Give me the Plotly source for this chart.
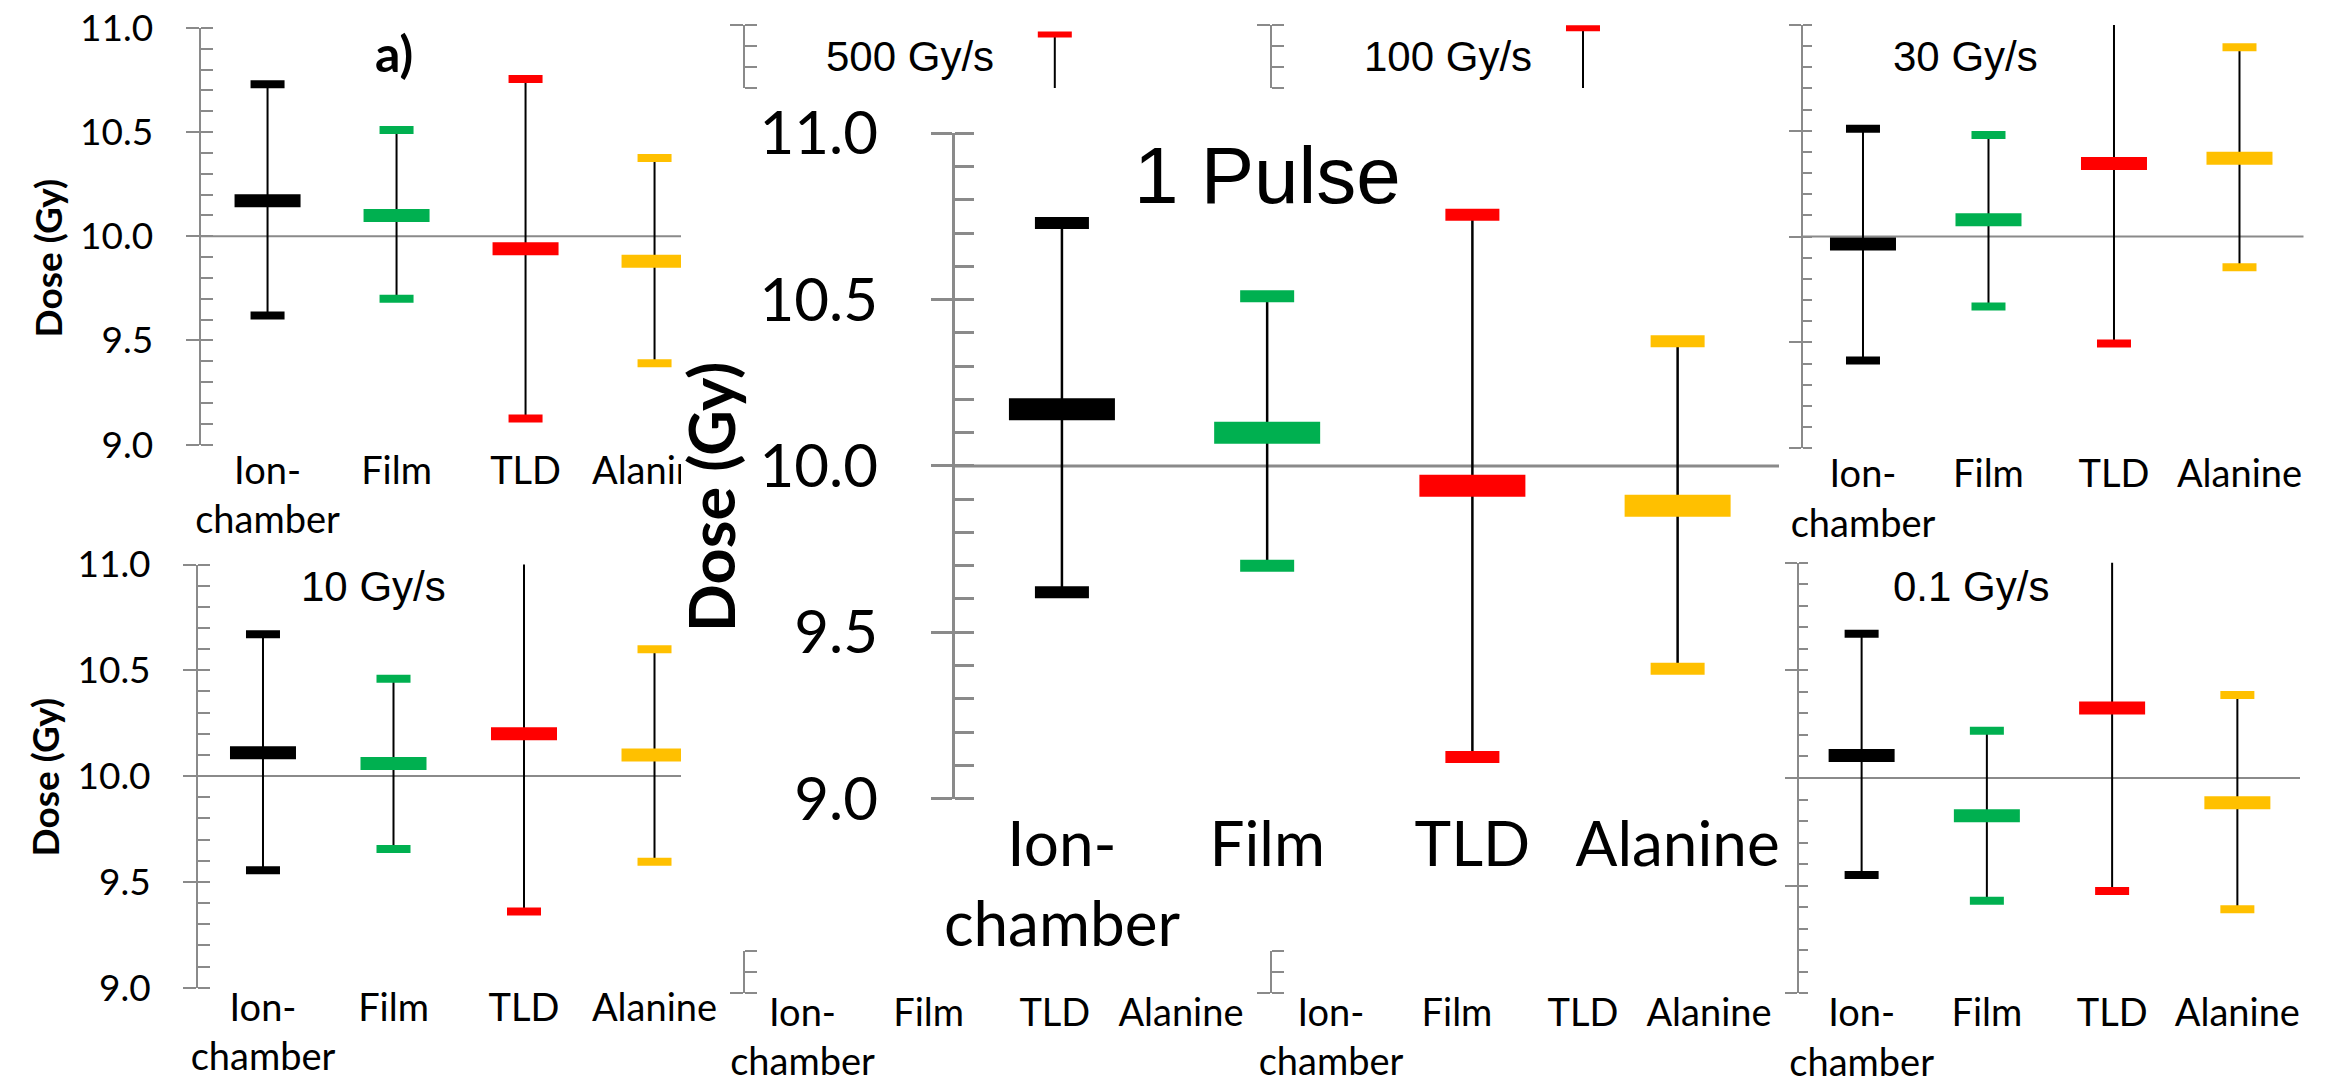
import numpy as np
import plotly.graph_objects as go

W, H = 2329, 1088

# ---------------- data ----------------
categories = ["Ion-chamber", "Film", "TLD", "Alanine"]
category_ticktext = ["Ion-<br>chamber", "Film", "TLD", "Alanine"]
detector_colors = ["#000000", "#00B050", "#FF0000", "#FFC000"]
dose_ticks = [9.0, 9.5, 10.0, 10.5, 11.0]
reference_dose = 10.0

# 1 Pulse (panel a and the enlarged copy)
pulse1_mean = [10.17, 10.10, 9.94, 9.88]
pulse1_upper = [10.73, 10.51, 10.755, 10.375]
pulse1_lower = [9.62, 9.70, 9.125, 9.39]

# 30 Gy/s
gy30_mean = [9.965, 10.08, 10.345, 10.37]
gy30_upper = [10.51, 10.48, 11.19, 10.895]
gy30_lower = [9.415, 9.67, 9.495, 9.855]

# 10 Gy/s
gy10_mean = [10.11, 10.06, 10.20, 10.10]
gy10_upper = [10.67, 10.46, 11.04, 10.60]
gy10_lower = [9.555, 9.655, 9.36, 9.595]

# 0.1 Gy/s
gy01_mean = [10.105, 9.825, 10.325, 9.885]
gy01_upper = [10.67, 10.22, 11.17, 10.385]
gy01_lower = [9.55, 9.43, 9.475, 9.39]

# panels mostly hidden behind the enlarged one: only the TLD upper bound shows
gy500_tld_upper = 10.955
gy100_tld_upper = 10.985

# ---------------- helpers ----------------
AX = "#8A8A8A"
LABEL_FONT = "Lato"
TITLE_FONT = "Liberation Sans"


def px(x):
    return x / W


def py(y):
    return 1 - y / H


def aname(kind, i):
    return f"{kind}axis" if i == 1 else f"{kind}axis{i}"


def aref(kind, i):
    return kind if i == 1 else f"{kind}{i}"


small = dict(line_w=2, tick_out=13, tick_in=12, tick_w=2, label_size=37, cat_size=38,
             stem_w=2, mean_w=66, mean_h=13, cap_w=34, cap_h=8, ref_w=2,
             y_standoff=25, x_standoff=0)
small_low = dict(small, x_standoff=-6)
right = dict(small, tick_out=12, tick_in=9)
right_low = dict(right, x_standoff=-6)
big = dict(line_w=3, tick_out=21, tick_in=19, tick_w=3, label_size=60, cat_size=62,
           stem_w=2.5, mean_w=106, mean_h=22, cap_w=54, cap_h=12, ref_w=3,
           y_standoff=41, x_standoff=4)
strip = dict(small, cap_w=34, cap_h=6)
strip_low = dict(strip, x_standoff=-6)

N_MAIN = 9
fig = go.Figure()
axes_layout = {}
shapes = []


def add_axes(i, box, xr, yr, st, ylabels, xlabels, refline):
    x0, x1, yt, yb = box
    axes_layout[aname("x", i)] = dict(
        domain=[px(x0), px(x1)], range=list(xr), anchor=aref("y", i), automargin=False,
        showline=False, showgrid=False, zeroline=False, ticks="",
        tickmode="array", tickvals=list(range(len(categories))),
        ticktext=category_ticktext, tickangle=0, showticklabels=xlabels,
        tickfont=dict(size=st["cat_size"], color="black", family=LABEL_FONT),
        ticklabelstandoff=st["x_standoff"])
    axes_layout[aname("y", i)] = dict(
        domain=[py(yb), py(yt)], range=list(yr), anchor=aref("x", i), automargin=False,
        showline=True, linecolor=AX, linewidth=st["line_w"],
        showgrid=False, zeroline=False,
        ticks="outside", ticklen=st["tick_out"], tickwidth=st["tick_w"], tickcolor=AX,
        tickmode="array", tickvals=dose_ticks, tickformat=".1f",
        showticklabels=ylabels,
        tickfont=dict(size=st["label_size"], color="black", family=LABEL_FONT),
        ticklabelstandoff=st["y_standoff"],
        minor=dict(ticks="inside", ticklen=st["tick_in"], tickwidth=st["tick_w"],
                   tickcolor=AX, tick0=9.0, dtick=0.1))
    # inner half of the major ticks (they cross the axis line)
    axes_layout[aname("y", i + N_MAIN)] = dict(
        overlaying=aref("y", i), anchor=aref("x", i), side="left", range=list(yr),
        automargin=False, showline=False, showgrid=False, zeroline=False,
        ticks="inside", ticklen=st["tick_in"], tickwidth=st["tick_w"], tickcolor=AX,
        tickmode="array", tickvals=dose_ticks, showticklabels=False)
    if refline:
        shapes.append(dict(type="line", xref=f"{aref('x', i)} domain", yref=aref("y", i),
                           x0=0, x1=1, y0=reference_dose, y1=reference_dose,
                           line=dict(color=AX, width=st["ref_w"]), layer="below"))


def add_detectors(i, mean, upper, lower, st):
    xs = list(range(len(categories)))
    mean = np.array(mean, dtype=float)
    upper = np.array(upper, dtype=float)
    lower = np.array(lower, dtype=float)
    xa, ya = aref("x", i), aref("y", i)
    fig.add_trace(go.Scatter(
        x=xs, y=mean, mode="markers", marker=dict(size=1, color="rgba(0,0,0,0)"),
        error_y=dict(type="data", symmetric=False, array=upper - mean,
                     arrayminus=mean - lower, color="black",
                     thickness=st["stem_w"], width=0),
        xaxis=xa, yaxis=ya, showlegend=False, hoverinfo="skip"))
    fig.add_trace(go.Scatter(
        x=xs + xs, y=list(upper) + list(lower), mode="markers",
        marker=dict(symbol="line-ew", size=st["cap_w"] / 1.4, color=detector_colors * 2,
                    line=dict(width=st["cap_h"], color=detector_colors * 2)),
        xaxis=xa, yaxis=ya, showlegend=False, hoverinfo="skip"))
    fig.add_trace(go.Scatter(
        x=xs, y=mean, mode="markers",
        marker=dict(symbol="line-ew", size=st["mean_w"] / 1.4, color=detector_colors,
                    line=dict(width=st["mean_h"], color=detector_colors)),
        xaxis=xa, yaxis=ya, showlegend=False, hoverinfo="skip"))


def add_hidden_tld(i, upper, yr, st):
    k = categories.index("TLD")
    xa, ya = aref("x", i), aref("y", i)
    fig.add_trace(go.Scatter(x=[k, k], y=[upper, yr[0]], mode="lines",
                             line=dict(color="black", width=st["stem_w"]),
                             xaxis=xa, yaxis=ya, showlegend=False, hoverinfo="skip"))
    fig.add_trace(go.Scatter(
        x=[k], y=[upper], mode="markers",
        marker=dict(symbol="line-ew", size=st["cap_w"] / 1.4, color=detector_colors[k],
                    line=dict(width=st["cap_h"], color=detector_colors[k])),
        xaxis=xa, yaxis=ya, showlegend=False, hoverinfo="skip"))


def add_placeholder(i):
    # the panel's data lie behind the enlarged panel; an empty trace keeps the axes drawn
    fig.add_trace(go.Scatter(x=[0], y=[None], mode="markers",
                             xaxis=aref("x", i), yaxis=aref("y", i),
                             showlegend=False, hoverinfo="skip"))


full_range = (9.0, 11.0)
top_strip_range = (10.7, 11.0)
bottom_strip_range = (9.0, 9.2)

# panel a) 1 Pulse
add_axes(1, (200.6, 681, 27.9, 444.6), (-0.519, 3.205), full_range, small, True, True, True)
add_detectors(1, pulse1_mean, pulse1_upper, pulse1_lower, small)
# enlarged 1 Pulse
add_axes(2, (955, 1779, 133.2, 798.6), (-0.521, 3.494), full_range, big, True, True, True)
add_detectors(2, pulse1_mean, pulse1_upper, pulse1_lower, big)
# 30 Gy/s
add_axes(3, (1803, 2303.5, 25, 448.2), (-0.478, 3.51), full_range, right, False, True, True)
add_detectors(3, gy30_mean, gy30_upper, gy30_lower, right)
# 10 Gy/s
add_axes(4, (198, 681, 564.5, 987.7), (-0.498, 3.203), full_range, small_low, True, True, True)
add_detectors(4, gy10_mean, gy10_upper, gy10_lower, small_low)
# 0.1 Gy/s
add_axes(5, (1799, 2300, 562.7, 993.3), (-0.5, 3.5), full_range, right_low, False, True, True)
add_detectors(5, gy01_mean, gy01_upper, gy01_lower, right_low)
# 500 Gy/s (only its top strip is visible)
add_axes(6, (744.5, 1244, 25, 88), (-0.46, 3.5), top_strip_range, strip, False, False, False)
add_hidden_tld(6, gy500_tld_upper, top_strip_range, strip)
# 100 Gy/s (only its top strip is visible)
add_axes(7, (1272, 1772, 25, 88), (-0.468, 3.5), top_strip_range, strip, False, False, False)
add_hidden_tld(7, gy100_tld_upper, top_strip_range, strip)
# lower middle panels, hidden except the axis foot and category labels
add_axes(8, (744.5, 1244, 951, 993), (-0.46, 3.5), bottom_strip_range, strip_low, False, True, False)
add_placeholder(8)
add_axes(9, (1272, 1772, 951, 993), (-0.468, 3.5), bottom_strip_range, strip_low, False, True, False)
add_placeholder(9)

# the enlarged panel covers the end of panel a)'s last label
shapes.append(dict(type="rect", xref="paper", yref="paper",
                   x0=px(681), x1=px(745), y0=py(500), y1=py(452),
                   fillcolor="white", line=dict(width=0), layer="above"))


def note(text, x, y, size, family=TITLE_FONT, bold=False, angle=0):
    return dict(text=text, x=px(x), y=py(y), xref="paper", yref="paper",
                xanchor="center", yanchor="middle", showarrow=False, textangle=angle,
                font=dict(size=size, family=family, color="black",
                          weight="bold" if bold else "normal"))


annotations = [
    note("a)", 394, 53, 50, family=LABEL_FONT, bold=True),
    note("1 Pulse", 1267, 176, 80),
    note("500 Gy/s", 910, 57, 42),
    note("100 Gy/s", 1448, 57, 42),
    note("30 Gy/s", 1965, 57, 42),
    note("10 Gy/s", 373, 586, 42),
    note("0.1 Gy/s", 1971, 586, 42),
    note("Dose (Gy)", 47.5, 258, 37, family=LABEL_FONT, bold=True, angle=-90),
    note("Dose (Gy)", 43.5, 777, 37, family=LABEL_FONT, bold=True, angle=-90),
    note("Dose (Gy)", 710, 497, 63, family=LABEL_FONT, bold=True, angle=-90),
]

fig.update_layout(
    width=W, height=H, autosize=False,
    margin=dict(l=0, r=0, t=0, b=0, pad=0, autoexpand=False),
    paper_bgcolor="white", plot_bgcolor="white", showlegend=False,
    font=dict(family=LABEL_FONT, color="black"),
    shapes=shapes, annotations=annotations, **axes_layout)

fig.write_html("out.html")
